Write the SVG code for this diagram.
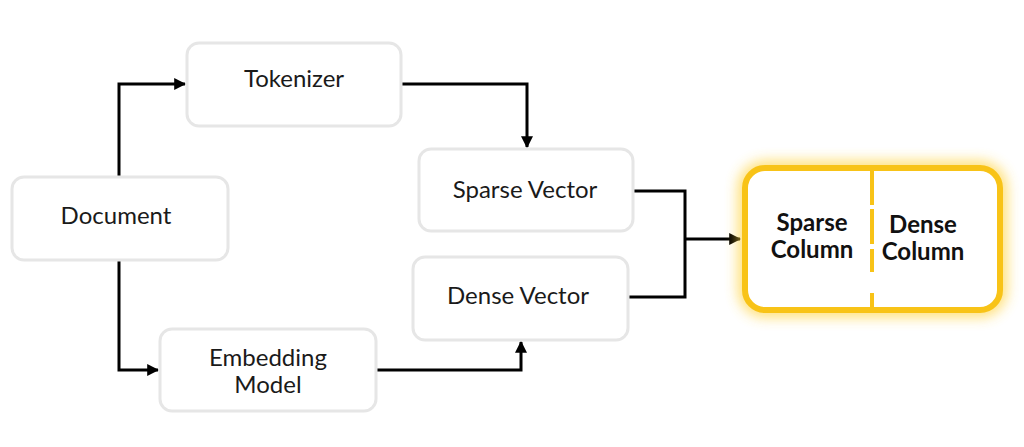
<svg xmlns="http://www.w3.org/2000/svg" width="1024" height="447" viewBox="0 0 1024 447">
<style>
.node rect{fill:#ffffff;stroke:#e6e6e6;stroke-width:3}
.lbl{font-family:Lato,"Open Sans",sans-serif;font-size:24px;fill:#1a1a1a;text-anchor:middle}
.blbl{font-family:Lato,"Open Sans",sans-serif;font-size:24px;font-weight:bold;fill:#111;text-anchor:middle}
.conn path{fill:none;stroke:#000;stroke-width:3}
</style>
<defs>
<marker id="ah" viewBox="0 0 10 10" refX="9" refY="5" markerWidth="4" markerHeight="4" orient="auto" markerUnits="strokeWidth">
<path d="M0,0 L10,5 L0,10 z" fill="#000"/>
</marker>
<filter id="glow" x="-25%" y="-40%" width="150%" height="180%">
<feGaussianBlur stdDeviation="7"/>
</filter>
</defs>
<rect width="1024" height="447" fill="#ffffff"/>
<g class="conn">
<path d="M119,177 V84 H185" marker-end="url(#ah)"/>
<path d="M119,260 V370 H158" marker-end="url(#ah)"/>
<path d="M401,84 H527 V147" marker-end="url(#ah)"/>
<path d="M376,370 H521 V342" marker-end="url(#ah)"/>
<path d="M633,191 H685 V297 H628"/>
<path d="M685,239 H740" marker-end="url(#ah)"/>
</g>
<g id="document" class="node"><rect x="12" y="177" width="216" height="83" rx="12"/><text class="lbl" x="116" y="224">Document</text></g>
<g id="tokenizer" class="node"><rect x="187" y="43" width="214" height="83" rx="12"/><text class="lbl" x="294" y="87">Tokenizer</text></g>
<g id="embedding" class="node"><rect x="160" y="329" width="216" height="82" rx="12"/><text class="lbl" x="268" y="366">Embedding</text><text class="lbl" x="268" y="393">Model</text></g>
<g id="sparse-vector" class="node"><rect x="419" y="149" width="214" height="82" rx="12"/><text class="lbl" x="525" y="198">Sparse Vector</text></g>
<g id="dense-vector" class="node"><rect x="413" y="257" width="215" height="83" rx="12"/><text class="lbl" x="518" y="304">Dense Vector</text></g>
<g id="columns">
<rect x="745" y="168" width="255" height="142" rx="20" fill="none" stroke="#ffd23a" stroke-width="12" filter="url(#glow)" opacity="0.85"/>
<rect x="745" y="168" width="255" height="142" rx="20" fill="#ffffff" stroke="#f8c317" stroke-width="6"/>
<path d="M872,166 V205 M872,209 V244 M872,249 V272 M872,293 V312" stroke="#f8c317" stroke-width="4" fill="none"/>
<text class="blbl" x="812" y="231">Sparse</text>
<text class="blbl" x="812" y="258">Column</text>
<text class="blbl" x="923" y="233">Dense</text>
<text class="blbl" x="923" y="260">Column</text>
</g>
</svg>
